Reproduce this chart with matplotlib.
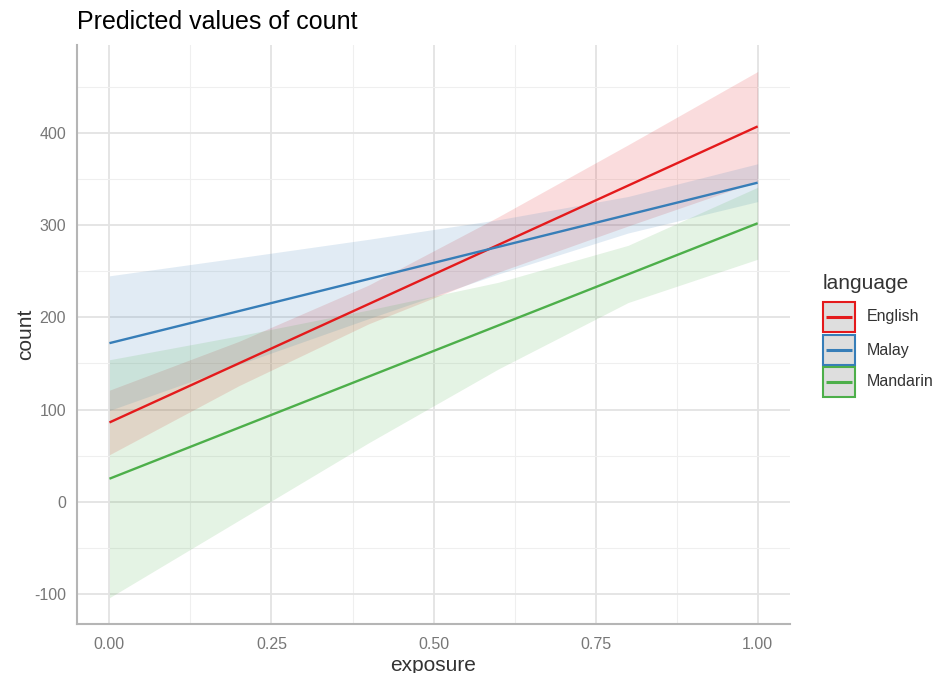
import numpy as np
import matplotlib
matplotlib.use('Agg')
import matplotlib.pyplot as plt
from matplotlib.patches import Rectangle
from matplotlib.lines import Line2D
from matplotlib.ticker import MultipleLocator

plt.rcParams['font.family'] = ['Liberation Sans', 'DejaVu Sans']
plt.rcParams['axes.unicode_minus'] = False

# predicted counts with 95% CI at each exposure value
exposure = [0.0, 0.2, 0.4, 0.6, 0.8, 1.0]

english_fit = [86, 150.2, 214.4, 278.6, 342.8, 407]
english_low = [51, 126, 193, 249, 299, 347.5]
english_high = [121, 174, 235, 309, 387, 466.5]

malay_fit = [172, 206.8, 241.6, 276.4, 311.2, 346]
malay_low = [99, 149, 198.6, 247, 291.4, 325.5]
malay_high = [245, 264.6, 284.6, 305.8, 331, 366.5]

mandarin_fit = [25, 80.4, 135.8, 191.2, 246.6, 302]
mandarin_low = [-104, -20, 64, 144, 216, 263]
mandarin_high = [154, 180, 208, 238, 278, 341]

languages = ['English', 'Malay', 'Mandarin']
colors = ['#E41A1C', '#377EB8', '#4DAF4A']
fits = [english_fit, malay_fit, mandarin_fit]
lows = [english_low, malay_low, mandarin_low]
highs = [english_high, malay_high, mandarin_high]

x_ticks = [0.0, 0.25, 0.5, 0.75, 1.0]
x_labels = ['0.00', '0.25', '0.50', '0.75', '1.00']
y_ticks = [-100, 0, 100, 200, 300, 400]

W, H = 937, 673
fig = plt.figure(figsize=(W / 100, H / 100), dpi=100)
ax = fig.add_axes([0.0822, 0.0728, 0.761, 0.860])

# ribbons first, lines on top
for low, high, c in zip(lows, highs, colors):
    ax.fill_between(exposure, low, high, color=c, alpha=0.15, linewidth=0)
for fit, c in zip(fits, colors):
    ax.plot(exposure, fit, color=c, lw=1.7, solid_capstyle='butt')

ax.margins(x=0.05, y=0.05)

ax.set_xticks(x_ticks)
ax.set_xticklabels(x_labels)
ax.set_yticks(y_ticks)
ax.xaxis.set_minor_locator(MultipleLocator(0.125))
ax.yaxis.set_minor_locator(MultipleLocator(50))

ax.grid(which='major', color='#e3e3e3', lw=1.3)
ax.grid(which='minor', color='#efefef', lw=0.8)
ax.set_axisbelow(True)

ax.tick_params(which='both', length=0, labelsize=11.5, labelcolor='#777777')
ax.tick_params(axis='x', pad=9)
ax.tick_params(axis='y', pad=8)

for side in ['top', 'right']:
    ax.spines[side].set_visible(False)
for side in ['left', 'bottom']:
    ax.spines[side].set_color('#b5b5b5')
    ax.spines[side].set_linewidth(1.5)

ax.set_xlabel('exposure', fontsize=15, color='#333333', labelpad=3)
ax.set_ylabel('count', fontsize=15, color='#333333', labelpad=-1)
ax.set_title('Predicted values of count', fontsize=18, loc='left', pad=12)

# legend drawn by hand in pixel positions: grey key box, coloured border, line
def px(x, y):
    return x / W, 1 - y / H

key_left, key_w, key_h = 823, 32, 30
row_top = [302, 335, 367]

fig.text(*px(823, 283), 'language', fontsize=15, color='#333333',
         ha='left', va='center')
for name, c, top in zip(languages, colors, row_top):
    x0, y0 = px(key_left, top + key_h)
    fig.add_artist(Rectangle((x0, y0), key_w / W, key_h / H,
                             transform=fig.transFigure, facecolor='#dedede',
                             edgecolor=c, linewidth=1.5))
    yc = top + key_h / 2
    xa, ya = px(key_left + 3, yc)
    xb, _ = px(key_left + key_w - 3, yc)
    fig.add_artist(Line2D([xa, xb], [ya, ya], transform=fig.transFigure,
                          color=c, lw=2.2, solid_capstyle='butt'))
    fig.text(*px(867, yc), name, fontsize=11.5, color='#333333',
             ha='left', va='center')

plt.savefig('out.png', dpi=100)
